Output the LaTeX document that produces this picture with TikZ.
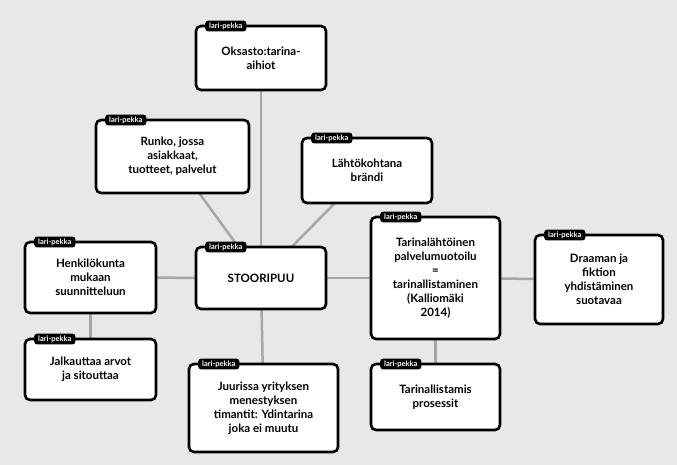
\documentclass[tikz,border=0pt]{standalone}
\usepackage{fontspec}
\setmainfont{Lato}
\usetikzlibrary{backgrounds}
\begin{document}
\begin{tikzpicture}[x=1pt,y=-1pt,
  box/.style={draw=black,line width=2.6pt,rounded corners=5pt,fill=white,align=center,font=\fontsize{11.5}{14}\selectfont\bfseries,inner sep=4pt},
  tab/.style={fill=black,text=white,rounded corners=3pt,font=\fontsize{7.5}{8}\selectfont\bfseries,inner xsep=4pt,inner ysep=2pt,anchor=west},
  conn/.style={draw=gray!70,line width=2.5pt}]
\useasboundingbox (0,0) rectangle (677,465);
\newcommand\mybox[6]{%
  \node[box,minimum width=#4-#2,minimum height=#5-#3] (#1) at ({(#2+#4)/2},{(#3+#5)/2}) {#6};
  \node[tab] (#1t) at (#2+9,#3) {lari-pekka};}
\mybox{oks}{196}{26}{326}{90}{Oksasto:tarina-\\aihiot}
\mybox{run}{96}{120}{249}{193}{Runko, jossa\\asiakkaat,\\tuotteet, palvelut}
\mybox{lah}{302}{138}{432}{203}{Lähtökohtana\\brändi}
\mybox{st}{196}{247}{326}{309}{STOORIPUU}
\mybox{tar}{371}{217}{500}{339}{Tarinalähtöinen\\palvelumuotoilu\\=\\tarinallistaminen\\(Kalliomäki\\2014)}
\mybox{dra}{535}{235}{663}{324}{Draaman ja\\fiktion\\yhdistäminen\\suotavaa}
\mybox{hen}{25}{242}{156}{313}{Henkilökunta\\mukaan\\suunnitteluun}
\mybox{jal}{25}{339}{156}{400}{Jalkauttaa arvot\\ja sitouttaa}
\mybox{juu}{189}{364}{338}{452}{Juurissa yrityksen\\menestyksen\\timantit: Ydintarina\\joka ei muutu}
\mybox{tal}{371}{364}{500}{430}{Tarinallistamis\\prosessit}
\begin{scope}[on background layer]
\fill[gray!18] (0,0) rectangle (677,465);
\draw[conn] (st.center) -- (oks.center);
\draw[conn] (st.center) -- (run.center);
\draw[conn] (st.center) -- (lah.center);
\draw[conn] (st.center) -- (tar.center);
\draw[conn] (st.center) -- (hen.center);
\draw[conn] (st.center) -- (juu.center);
\draw[conn] (tar.center) -- (dra.center);
\draw[conn] (tar.center) -- (tal.center);
\draw[conn] (hen.center) -- (jal.center);
\end{scope}
\end{tikzpicture}
\end{document}
